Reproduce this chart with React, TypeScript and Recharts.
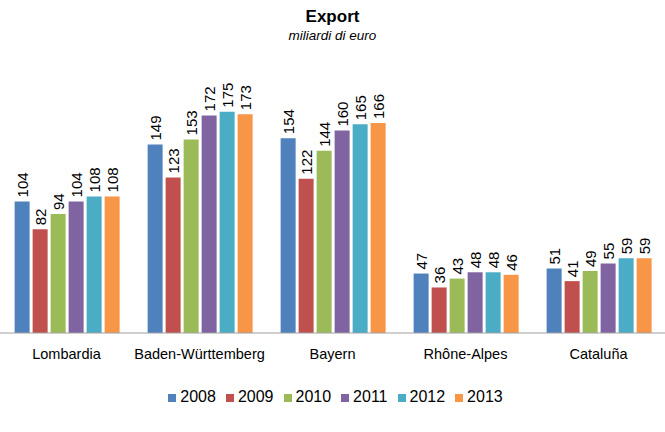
import React from 'react';
import { BarChart, Bar, XAxis, YAxis, Legend, LabelList } from 'recharts';

const regions = ['Lombardia', 'Baden-Württemberg', 'Bayern', 'Rhône-Alpes', 'Cataluña'];
const years = ['2008', '2009', '2010', '2011', '2012', '2013'];
const v2008 = [104, 149, 154, 47, 51];
const v2009 = [82, 123, 122, 36, 41];
const v2010 = [94, 153, 144, 43, 49];
const v2011 = [104, 172, 160, 48, 55];
const v2012 = [108, 175, 165, 48, 59];
const v2013 = [108, 173, 166, 46, 59];
const colors = ['#4F81BD', '#C0504D', '#9BBB59', '#8064A2', '#4BACC6', '#F79646'];

const seriesValues = [v2008, v2009, v2010, v2011, v2012, v2013];
const data = regions.map((r, i) => {
  const row: any = { region: r };
  years.forEach((y, k) => { row[y] = seriesValues[k][i]; });
  return row;
});

const font = 'Arial, "Liberation Sans", sans-serif';

const RotLabel = (props: any) => {
  const { x, y, width, value } = props;
  const cx = x + width / 2;
  const ty = y - 4;
  return (
    <text
      x={cx}
      y={ty}
      transform={`rotate(-90 ${cx} ${ty})`}
      textAnchor="start"
      dominantBaseline="central"
      fontSize={15}
      fontFamily={font}
      fill="#000"
    >
      {value}
    </text>
  );
};

export default function App() {
  return (
    <div style={{ position: 'absolute', left: 0, top: 0, width: 665, height: 432, background: '#fff' }}>
      <div style={{ position: 'absolute', left: 0, top: 7, width: 665, textAlign: 'center', fontFamily: font, fontWeight: 'bold', fontSize: 17, color: '#000' }}>
        Export
      </div>
      <div style={{ position: 'absolute', left: 0, top: 28, width: 665, textAlign: 'center', fontFamily: font, fontStyle: 'italic', fontSize: 13.5, color: '#000' }}>
        miliardi di euro
      </div>
      <BarChart
        width={665}
        height={432}
        data={data}
        margin={{ top: 80, right: 0, left: 0, bottom: 51 }}
        barCategoryGap="11%"
        barGap={3}
      >
        <XAxis
          dataKey="region"
          axisLine={{ stroke: '#A0A0A0' }}
          tickLine={false}
          tick={{ fontSize: 14.5, fontFamily: font, fill: '#000' }}
          tickMargin={10}
          interval={0}
        />
        <YAxis hide domain={[0, 200]} />
        <Legend
          verticalAlign="bottom"
          iconType="square"
          iconSize={8}
          wrapperStyle={{ fontFamily: font, fontSize: 16, bottom: 26, left: 8 }}
          formatter={(v: any) => <span style={{ color: '#000' }}>{v}</span>}
        />
        {years.map((y, k) => (
          <Bar key={y} dataKey={y} fill={colors[k]} isAnimationActive={false}>
            <LabelList dataKey={y} content={<RotLabel />} />
          </Bar>
        ))}
      </BarChart>
    </div>
  );
}
